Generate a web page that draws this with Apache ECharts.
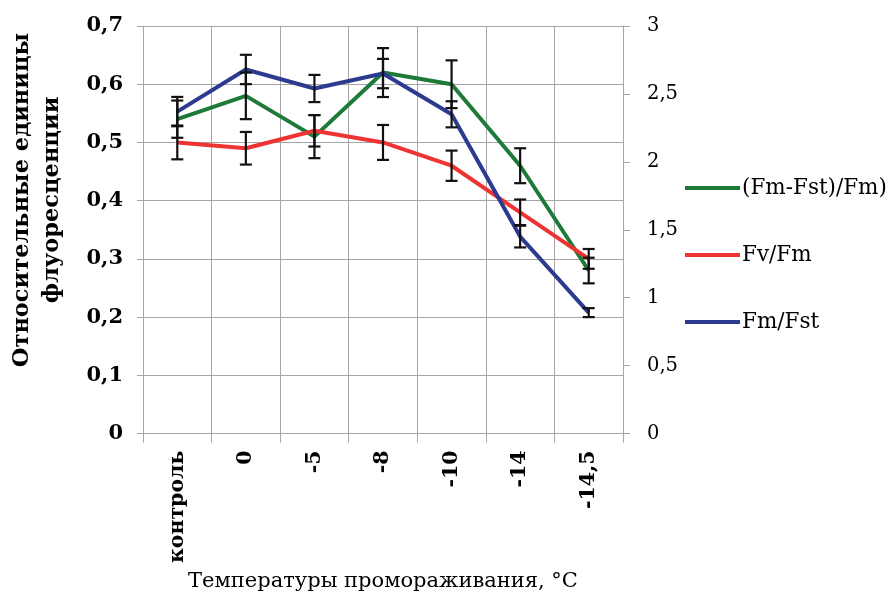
<!DOCTYPE html>
<html>
<head>
<meta charset="utf-8">
<script src="https://cdn.jsdelivr.net/npm/echarts@6/dist/echarts.min.js"></script>
<style>
html,body{margin:0;padding:0;background:#fff;}
#chart{width:889px;height:597px;}
</style>
</head>
<body>
<div id="chart"></div>
<script>
var categories = ['контроль', '0', '-5', '-8', '-10', '-14', '-14,5'];
var seriesNames = ['(Fm-Fst)/Fm)', 'Fv/Fm', 'Fm/Fst'];
var rfdValues = [0.54, 0.58, 0.51, 0.62, 0.60, 0.46, 0.28];
var rfdErrors = [0.032, 0.040, 0.037, 0.042, 0.041, 0.030, 0.022];
var fvfmValues = [0.50, 0.49, 0.52, 0.50, 0.46, 0.38, 0.30];
var fvfmErrors = [0.029, 0.028, 0.027, 0.030, 0.026, 0.022, 0.017];
var fmfstValues = [2.37, 2.68, 2.54, 2.65, 2.35, 1.45, 0.89];
var fmfstErrors = [0.108, 0.108, 0.100, 0.108, 0.096, 0.080, 0.033];
var leftTickLabels = ['0', '0,1', '0,2', '0,3', '0,4', '0,5', '0,6', '0,7'];
var rightTickLabels = ['0', '0,5', '1', '1,5', '2', '2,5', '3'];
var yAxisTitle = 'Относительные единицы\nфлуоресценции';
var xAxisTitle = 'Температуры промораживания, °С';

var colors = ['#1E7A38', '#EE3333', '#2C3A8F'];
var gridColor = '#A6A6A6';

function errData(vals, errs) {
  return vals.map(function (v, i) { return [i, v - errs[i], v + errs[i]]; });
}
function errRender(params, api) {
  var x = api.value(0);
  var lo = api.coord([x, api.value(1)]);
  var hi = api.coord([x, api.value(2)]);
  var w = 6;
  var st = { stroke: '#111', lineWidth: 2.2 };
  return {
    type: 'group',
    children: [
      { type: 'line', shape: { x1: hi[0], y1: hi[1], x2: lo[0], y2: lo[1] }, style: st },
      { type: 'line', shape: { x1: hi[0] - w, y1: hi[1], x2: hi[0] + w, y2: hi[1] }, style: st },
      { type: 'line', shape: { x1: lo[0] - w, y1: lo[1], x2: lo[0] + w, y2: lo[1] }, style: st }
    ]
  };
}

var chart = echarts.init(document.getElementById('chart'), null, { renderer: 'canvas' });
var serifFont = '"DejaVu Serif", "Liberation Serif", serif';
chart.setOption({
  animation: false,
  backgroundColor: '#fff',
  textStyle: { fontFamily: serifFont },
  grid: { left: 143, right: 266, top: 26, bottom: 156, containLabel: false },
  legend: {
    orient: 'vertical',
    left: 680,
    top: 171,
    itemWidth: 55,
    itemHeight: 4,
    itemGap: 43,
    icon: 'rect',
    data: seriesNames,
    textStyle: { fontFamily: serifFont, fontSize: 21.5, color: '#000', lineHeight: 24, padding: [0, 0, 0, -3] }
  },
  xAxis: {
    type: 'category',
    data: categories,
    boundaryGap: true,
    name: xAxisTitle,
    nameLocation: 'middle',
    nameGap: 134,
    nameTextStyle: { fontFamily: serifFont, fontSize: 21, color: '#000' },
    axisLine: { lineStyle: { color: gridColor, width: 1 } },
    axisTick: { show: true, length: 9, lineStyle: { color: gridColor } },
    splitLine: { show: true, lineStyle: { color: gridColor, width: 1 } },
    axisLabel: {
      rotate: 90,
      margin: 17,
      fontFamily: serifFont,
      fontWeight: 'bold',
      fontSize: 20.5,
      color: '#000',
      interval: 0
    }
  },
  yAxis: [
    {
      type: 'value',
      min: 0, max: 0.7, interval: 0.1,
      axisLine: { show: true, lineStyle: { color: gridColor } },
      axisTick: { show: true, length: 6, lineStyle: { color: gridColor } },
      splitLine: { show: true, lineStyle: { color: gridColor, width: 1 } },
      axisLabel: {
        margin: 20,
        fontFamily: serifFont,
        fontWeight: 'bold',
        fontSize: 21,
        color: '#000',
        formatter: function (v) { return leftTickLabels[Math.round(v / 0.1)]; }
      }
    },
    {
      type: 'value',
      min: 0, max: 3, interval: 0.5,
      position: 'right',
      axisLine: { show: true, lineStyle: { color: gridColor } },
      axisTick: { show: true, length: 7, lineStyle: { color: gridColor } },
      splitLine: { show: false },
      axisLabel: {
        margin: 24,
        fontFamily: serifFont,
        fontSize: 19.5,
        color: '#000',
        formatter: function (v) { return rightTickLabels[Math.round(v / 0.5)]; }
      }
    }
  ],
  graphic: [
    {
      type: 'text',
      x: 37, y: 200,
      rotation: Math.PI / 2,
      style: {
        text: yAxisTitle,
        fontFamily: serifFont,
        fontWeight: 'bold',
        fontSize: 22.5,
        lineHeight: 30,
        fill: '#000',
        align: 'center',
        verticalAlign: 'middle'
      }
    }
  ],
  series: [
    {
      name: seriesNames[0], type: 'line', yAxisIndex: 0, data: rfdValues,
      symbol: 'none', lineStyle: { color: colors[0], width: 4 }, itemStyle: { color: colors[0] }, z: 3
    },
    {
      name: seriesNames[1], type: 'line', yAxisIndex: 0, data: fvfmValues,
      symbol: 'none', lineStyle: { color: colors[1], width: 4 }, itemStyle: { color: colors[1] }, z: 3
    },
    {
      name: seriesNames[2], type: 'line', yAxisIndex: 1, data: fmfstValues,
      symbol: 'none', lineStyle: { color: colors[2], width: 4 }, itemStyle: { color: colors[2] }, z: 3
    },
    { type: 'custom', yAxisIndex: 0, data: errData(rfdValues, rfdErrors), renderItem: errRender, z: 5, encode: { x: 0, y: [1, 2] } },
    { type: 'custom', yAxisIndex: 0, data: errData(fvfmValues, fvfmErrors), renderItem: errRender, z: 5, encode: { x: 0, y: [1, 2] } },
    { type: 'custom', yAxisIndex: 1, data: errData(fmfstValues, fmfstErrors), renderItem: errRender, z: 5, encode: { x: 0, y: [1, 2] } }
  ]
});
</script>
</body>
</html>
